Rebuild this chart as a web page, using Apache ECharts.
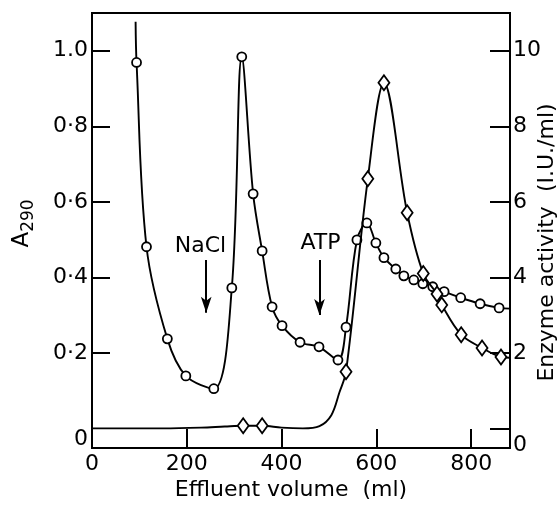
<!DOCTYPE html>
<html>
<head>
<meta charset="utf-8">
<script src="https://cdn.jsdelivr.net/npm/echarts@6/dist/echarts.min.js"></script>
<style>html,body{margin:0;padding:0;background:#fff;}#c{width:559px;height:506px;}</style>
</head>
<body>
<div id="c"></div>
<script>
// ---- Data ----
// A290 (left axis): measured points (circles)
const a290Vol = [94, 115, 159, 198, 257, 295, 316, 340, 359, 380, 401, 439, 479, 519, 536, 559, 580, 599, 616, 641, 658, 679, 698, 719, 743, 778, 819, 859];
const a290Val = [0.969, 0.481, 0.237, 0.139, 0.105, 0.372, 0.984, 0.621, 0.470, 0.322, 0.272, 0.228, 0.216, 0.181, 0.268, 0.499, 0.544, 0.491, 0.452, 0.422, 0.404, 0.393, 0.383, 0.375, 0.362, 0.346, 0.330, 0.319];
// A290 traced line beyond the markers (no symbols)
const a290TraceVol = [92, 882];
const a290TraceVal = [1.077, 0.317];

// Enzyme activity (right axis, I.U./ml): measured points (diamonds)
const enzVol = [319, 359, 536, 582, 616, 665, 699, 728, 738, 779, 823, 863];
const enzVal = [0.07, 0.07, 1.50, 6.61, 9.15, 5.71, 4.10, 3.56, 3.27, 2.48, 2.13, 1.89];
// Enzyme traced line between/beyond markers (no symbols)
const enzTraceVol = [0, 150, 230, 280, 400, 445, 480, 505, 522, 882];
const enzTraceVal = [0.0, 0.0, 0.02, 0.05, 0.02, 0.0, 0.06, 0.35, 0.95, 1.87];

// Axis ticks and labels
const xTicks = [0, 200, 400, 600, 800];
const leftTicks = [0, 0.2, 0.4, 0.6, 0.8, 1.0];
const leftTickLabels = ['0', '0·2', '0·4', '0·6', '0·8', '1.0'];
const rightTicks = [0, 2, 4, 6, 8, 10];
const rightTickLabels = ['0', '2', '4', '6', '8', '10'];

// Annotations: label [vol, value, text], arrow [vol, from, to] on the A290 scale
const annotLabels = [[229, 0.481, 'NaCl'], [482, 0.489, 'ATP']];
const annotArrows = [[241, 0.446, 0.306], [480, 0.446, 0.300]];

// ---- Build ----
function merge(mv, mval, tv, tval) {
  const pts = [];
  mv.forEach((v, i) => pts.push({ value: [v, mval[i]], mark: true }));
  tv.forEach((v, i) => pts.push({ value: [v, tval[i]], mark: false }));
  pts.sort((a, b) => a.value[0] - b.value[0]);
  return pts;
}
const FONT = 'DejaVu Sans';
const FS = 22;
const chart = echarts.init(document.getElementById('c'), null, { renderer: 'canvas' });

const circleData = merge(a290Vol, a290Val, a290TraceVol, a290TraceVal).map(p =>
  p.mark ? { value: p.value } : { value: p.value, symbol: 'none' });
const diamondData = merge(enzVol, enzVal, enzTraceVol, enzTraceVal).map(p =>
  p.mark ? { value: p.value } : { value: p.value, symbol: 'none' });

const option = {
  animation: false,
  grid: { left: 92, right: 49, top: 13, bottom: 58, containLabel: false, outerBoundsMode: 'none',
          show: true, borderColor: '#000', borderWidth: 2, backgroundColor: 'transparent' },
  xAxis: {
    type: 'value', min: 0, max: 882,
    axisLine: { onZero: false, lineStyle: { color: '#000', width: 2 } },
    axisTick: { inside: true, length: 19, lineStyle: { color: '#000', width: 2 }, customValues: xTicks },
    axisLabel: { customValues: xTicks, color: '#000', fontFamily: FONT, fontSize: FS, margin: 5 },
    splitLine: { show: false },
    name: 'Effluent volume  (ml)', nameLocation: 'middle', nameGap: 31, nameMoveOverlap: false,
    nameTextStyle: { color: '#000', fontFamily: FONT, fontSize: FS, padding: [0, 20, 0, 0] }
  },
  yAxis: [{
    type: 'value', min: -0.052, max: 1.10, position: 'left',
    axisLine: { show: true, onZero: false, lineStyle: { color: '#000', width: 2 } },
    axisTick: { show: true, inside: true, length: 18, lineStyle: { color: '#000', width: 2 }, customValues: leftTicks.slice(1) },
    axisLabel: {
      customValues: leftTicks, color: '#000', fontFamily: FONT, fontSize: FS, margin: 4,
      formatter: v => {
        const i = leftTicks.findIndex(t => Math.abs(t - v) < 1e-6);
        const s = i >= 0 ? leftTickLabels[i] : '';
        return Math.abs(v) < 1e-6 ? '{z|' + s + '}' : s;
      },
      rich: { z: { fontFamily: FONT, fontSize: FS, color: '#000', padding: [22, 0, 0, 0] } }
    },
    splitLine: { show: false },
    name: '{a|A}{s|290}', nameLocation: 'middle', nameGap: 55, nameRotate: 90, nameMoveOverlap: false,
    nameTextStyle: {
      padding: [0, 0, 0, 14],
      rich: {
        a: { fontFamily: FONT, fontSize: 23, color: '#000' },
        s: { fontFamily: FONT, fontSize: 17, color: '#000', padding: [12, 0, 0, 0] }
      }
    }
  }, {
    type: 'value', min: -0.52, max: 11.0, position: 'right',
    axisLine: { show: true, onZero: false, lineStyle: { color: '#000', width: 2 } },
    axisTick: { show: true, inside: true, length: 20, lineStyle: { color: '#000', width: 2 }, customValues: rightTicks },
    axisLabel: {
      customValues: rightTicks, color: '#000', fontFamily: FONT, fontSize: FS, margin: 3,
      formatter: v => {
        const i = rightTicks.findIndex(t => Math.abs(t - v) < 1e-6);
        const s = i >= 0 ? rightTickLabels[i] : '';
        return Math.abs(v) < 1e-6 ? '{z|' + s + '}' : s;
      },
      rich: { z: { fontFamily: FONT, fontSize: FS, color: '#000', padding: [34, 0, 0, 0] } }
    },
    splitLine: { show: false },
    name: 'Enzyme activity  (I.U./ml)', nameLocation: 'middle', nameGap: 26, nameRotate: 90, nameMoveOverlap: false,
    nameTextStyle: { color: '#000', fontFamily: FONT, fontSize: 22, padding: [0, 24, 0, 0] }
  }],
  series: [{
    type: 'line', name: 'A290', yAxisIndex: 0, data: circleData,
    smooth: 0.35,
    symbol: 'circle', symbolSize: 9, showAllSymbol: true,
    lineStyle: { color: '#000', width: 1.9 },
    itemStyle: { color: '#fff', borderColor: '#000', borderWidth: 1.8 },
    z: 3
  }, {
    type: 'line', name: 'Enzyme', yAxisIndex: 1, data: diamondData,
    smooth: 0.35,
    symbol: 'diamond', symbolSize: [11, 15], showAllSymbol: true,
    lineStyle: { color: '#000', width: 1.9 },
    itemStyle: { color: '#fff', borderColor: '#000', borderWidth: 1.8 },
    z: 4
  }, {
    type: 'scatter', name: 'annot', yAxisIndex: 0,
    data: annotLabels, symbolSize: 0, silent: true,
    itemStyle: { opacity: 1 },
    label: { show: true, position: 'inside', formatter: p => p.data[2], color: '#000', fontFamily: FONT, fontSize: FS },
    markLine: {
      silent: true, symbol: ['none', 'arrow'], symbolSize: [8, 16],
      lineStyle: { color: '#000', width: 2, type: 'solid' },
      label: { show: false },
      data: annotArrows.map(a => [{ coord: [a[0], a[1]] }, { coord: [a[0], a[2]] }])
    }
  }]
};
chart.setOption(option);
</script>
</body>
</html>
